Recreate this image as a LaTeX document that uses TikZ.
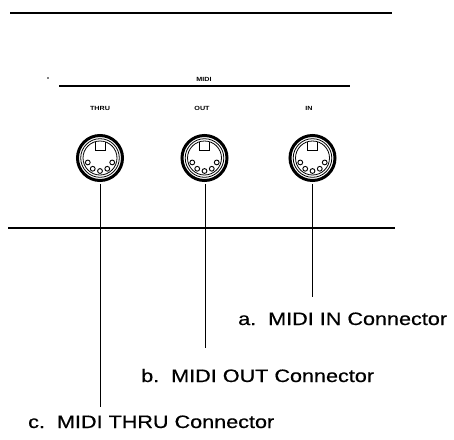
\documentclass[tikz,border=0pt]{standalone}
\usepackage{fontspec}
\setmainfont{Liberation Sans}
\newfontfamily\lblfont[FakeBold=0.5]{Liberation Sans}
\usepackage{graphicx}
\tikzset{
  rule/.style={line width=1.8pt, line cap=butt},
  leader/.style={line width=1pt},
  lbl/.style={font=\lblfont\fontsize{18}{20}\selectfont, inner sep=0pt},
  tiny/.style={font=\fontsize{6}{7}\selectfont\bfseries, inner sep=0pt},
  ring/.style={line width=3pt},
  thin/.style={line width=0.8pt},
  pin/.style={line width=0.9pt}
}
\newcommand{\dinjack}[2]{%
  \begin{scope}[shift={(#1,#2)}]
    \draw[ring] (0,0) circle (22.5);
    \draw[thin] (0,0) circle (19.3);
    \draw[thin] (0,0) circle (17);
    \draw[pin, fill=white] (-5,-16.3) -- (-5,-7.5) -- (5,-7.5) -- (5,-16.3);
    \foreach \a in {20,56,90,124,160}
      \draw[pin] (\a:13) circle (2.4);
  \end{scope}}
\begin{document}
\begin{tikzpicture}[x=1pt, y=-1pt]
\useasboundingbox (0,0) rectangle (454,439);
% top rule
\coordinate (t1) at (10,13);
\coordinate (t2) at (392,13);
\draw[rule] (t1) -- (t2);
% MIDI group
\node[tiny] (midi) at (204,79) {\scalebox{1.2}[1]{MIDI}};
\coordinate (m1) at (59,86);
\coordinate (m2) at (350,86);
\draw[line width=1.3pt] (m1) -- (m2);
\fill (48,78) circle (0.8);
\node[tiny] (thru) at (100,108) {\scalebox{1.2}[1]{THRU}};
\node[tiny] (out) at (202,108) {\scalebox{1.2}[1]{OUT}};
\node[tiny] (in) at (309,108) {\scalebox{1.2}[1]{IN}};
% connectors
\dinjack{100}{158}
\dinjack{204.5}{158}
\dinjack{312.5}{158}
\coordinate (sc) at (100,184);
\coordinate (sb) at (205,184);
\coordinate (sa) at (312.5,184);
% panel edge
\coordinate (p1) at (8,228);
\coordinate (p2) at (395,228);
\draw[rule] (p1) -- (p2);
% labels
\node[lbl, anchor=base west] (la) at (238,325) {\scalebox{1.2}[1]{a.\ \ MIDI IN Connector}};
\node[lbl, anchor=base west] (lb) at (141,382) {\scalebox{1.2}[1]{b.\ \ MIDI OUT Connector}};
\node[lbl, anchor=base west] (lc) at (28,428) {\scalebox{1.2}[1]{c.\ \ MIDI THRU Connector}};
% leaders
\coordinate (ea) at (312.5,297);
\coordinate (eb) at (205,348);
\coordinate (ec) at (100,407);
\draw[leader] (sa) -- (ea);
\draw[leader] (sb) -- (eb);
\draw[leader] (sc) -- (ec);
\end{tikzpicture}
\end{document}
